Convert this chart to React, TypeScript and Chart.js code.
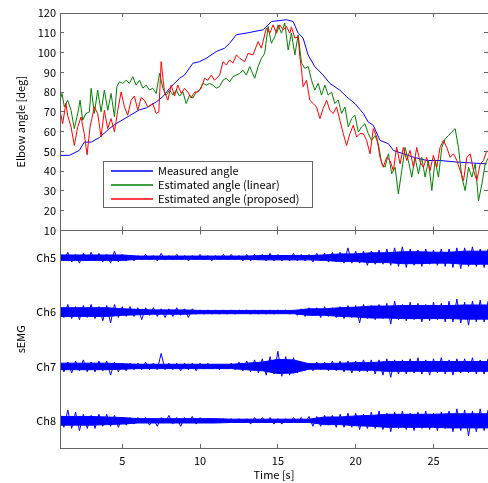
import React, { useEffect, useRef } from "react";
import { Chart, registerables } from "chart.js";

Chart.register(...registerables);

const FONT = '"Noto Sans CJK JP", "Noto Sans", sans-serif';
const AXIS = "#666666";

// Time axis / ticks
const timeTicks = [5, 10, 15, 20, 25];
const angleTicks = [10, 20, 30, 40, 50, 60, 70, 80, 90, 100, 110, 120];
const channelNames = ["Ch5", "Ch6", "Ch7", "Ch8"];
const channelCenters = [175, 125, 75, 25];

// Measured angle (blue)
const measuredTime = [1.0, 1.6, 2.24, 2.56, 3.0, 3.53, 4.17, 4.6, 5.46, 6.1, 6.54, 7.18, 7.6, 8.04, 8.68, 9.0, 9.54, 9.97, 10.4, 11.04, 11.58, 11.9, 12.33, 13.08, 14.05, 14.59, 15.55, 15.98, 16.3, 16.62, 16.94, 17.37, 17.91, 18.34, 18.98, 19.42, 19.95, 20.49, 20.8, 21.13, 21.56, 22.1, 22.42, 23.06, 23.7, 24.57, 25.43, 26.5, 27.57, 28.43];
const measuredAngle = [48, 48, 50.5, 54.7, 54.7, 57, 61.5, 64, 68, 71, 72, 75, 77.6, 81.9, 87, 88.6, 94.6, 95.4, 97.1, 100.5, 102.2, 104.7, 109, 110, 111.5, 115.7, 116.6, 115.7, 109.8, 107.3, 98.8, 92.9, 88.6, 84.4, 81, 77.6, 74.2, 69.2, 64.9, 63.2, 55.6, 53.9, 50.5, 48.8, 47.1, 45.4, 45.4, 44.6, 44.1, 43.7];

// Estimated angle (linear) (green)
const linearTime = [1.0, 1.13, 1.28, 1.49, 1.71, 1.92, 2.14, 2.29, 2.46, 2.67, 2.89, 3.0, 3.21, 3.42, 3.64, 3.85, 4.07, 4.28, 4.5, 4.65, 4.82, 5.03, 5.25, 5.46, 5.68, 5.89, 6.11, 6.32, 6.54, 6.75, 6.96, 7.18, 7.4, 7.61, 7.82, 8.04, 8.25, 8.47, 8.68, 8.9, 9.11, 9.33, 9.54, 9.75, 9.97, 10.18, 10.4, 10.61, 10.83, 11.04, 11.25, 11.47, 11.68, 11.9, 12.11, 12.33,
  12.55, 12.76, 12.97, 13.19, 13.51, 13.73, 13.94, 14.15, 14.37, 14.58, 14.8, 15.01, 15.23, 15.44, 15.66, 15.87, 16.09, 16.3, 16.52, 16.73, 16.95, 17.16, 17.37, 17.59, 17.8, 18.02, 18.23, 18.45, 18.66, 18.88, 19.09, 19.31, 19.52, 19.74, 19.95, 20.17, 20.38, 20.59, 20.81, 21.02, 21.24, 21.45, 21.67, 21.88, 22.1, 22.31, 22.53, 22.74, 22.96, 23.17, 23.38, 23.6, 23.81, 24.03, 24.24, 24.46, 24.67, 24.89, 25.1, 25.32, 25.53, 25.75, 25.96, 26.17, 26.39, 26.6, 26.82, 27.03, 27.25, 27.46, 27.68, 27.89, 28.11, 28.32, 28.54];
const linearAngle = [75.9, 79.3, 72.5, 75.9, 70.8, 61.5, 69.2, 75.9, 65.8, 69.2, 70, 81.9, 69.2, 81, 70, 81, 70.8, 79.3, 67.5, 82.7, 85.2, 84.4, 86, 84.4, 87.8, 83.5, 86, 82, 83.5, 81, 82, 79.3, 89.5, 82, 78.5, 81, 78.5, 81, 78, 80, 74.2, 78.5, 77, 80, 81, 84.4, 83.5, 84.4, 83.5, 82, 82.7, 86, 87, 85.2, 87.8, 88.6,
  89.5, 91, 88.6, 92.9, 87, 93, 97, 99.6, 113.2, 104.7, 108, 114, 109.8, 115, 101.3, 109.8, 98.8, 108.9, 94.6, 92, 92.9, 86, 81, 84.4, 78.5, 83.5, 78.5, 80, 74.2, 76, 69.2, 72.5, 62.4, 66.6, 68.3, 59.8, 62.4, 64, 59, 55.6, 58, 53.9, 43.7, 42, 48.8, 38.7, 42, 28.5, 40.3, 52, 45.4, 37, 47, 38.7, 47, 37, 45.4, 30.2, 45.4, 37, 52, 56.4, 58, 59.8, 61.5, 52, 37, 30.2, 42, 37, 43.7, 25, 33.6, 43.7, 47];

// Estimated angle (proposed) (red)
const proposedTime = [1.0, 1.17, 1.38, 1.49, 1.71, 1.92, 2.14, 2.35, 2.56, 2.74, 2.93, 3.21, 3.42, 3.64, 3.85, 4.07, 4.28, 4.5, 4.71, 4.93, 5.14, 5.35, 5.57, 5.78, 6.0, 6.21, 6.43, 6.64, 6.96, 7.18, 7.35, 7.5, 7.71, 7.93, 8.14, 8.36, 8.57, 8.79, 9.0, 9.21, 9.43, 9.65, 9.86, 10.07, 10.29, 10.5, 10.72, 10.93, 11.26, 11.47, 11.69, 11.9, 12.11, 12.33,
  12.55, 12.87, 13.08, 13.4, 13.73, 13.94, 14.26, 14.48, 14.69, 14.91, 15.12, 15.34, 15.55, 15.77, 15.87, 16.09, 16.3, 16.41, 16.52, 16.62, 16.84, 17.05, 17.27, 17.48, 17.7, 17.91, 18.13, 18.34, 18.56, 18.77, 18.98, 19.2, 19.41, 19.63, 19.84, 20.06, 20.27, 20.49, 20.7, 20.92, 21.13, 21.35, 21.56, 21.77, 21.99, 22.2, 22.42, 22.63, 22.85, 23.06, 23.28, 23.49, 23.71, 23.92, 24.14, 24.35, 24.56, 24.78, 24.99, 25.21, 25.42, 25.64, 25.85, 26.07, 26.28, 26.5, 26.71, 26.93, 27.14, 27.36, 27.57, 27.78, 28.0, 28.21, 28.43];
const proposedAngle = [70.8, 64, 74.4, 68.3, 62.4, 53, 62.4, 67.4, 59, 48.3, 62.4, 72.5, 69.2, 57.3, 70.8, 61.5, 66.6, 59.8, 70.8, 80.1, 72.5, 68.3, 75.9, 78, 70.8, 77.2, 75.9, 72.5, 74.2, 69.2, 70, 95.4, 80.1, 75.9, 83.5, 78, 83.5, 79.3, 81.9, 80, 77, 80, 80, 82, 87, 86, 88.6, 86, 88.6, 95.4, 93.7, 96.3, 94.6, 98.8,
  97.1, 95.4, 99.6, 98.8, 105.6, 102.2, 112.4, 109.8, 114, 109.8, 114, 111.5, 113.2, 109.8, 113, 107.3, 108, 98, 91.2, 82.7, 86, 75.9, 74.2, 72.5, 66.6, 71.7, 75.9, 70.8, 69.2, 72.5, 65.8, 59, 53, 59, 63.2, 57.3, 59, 59, 55.6, 48.8, 61.5, 57.3, 47.1, 42, 47, 45.4, 40.3, 52.2, 43.7, 52, 45.4, 50.5, 42, 52, 44.6, 42, 47, 40.3, 48, 42, 52, 55.6, 52, 47, 48.8, 45.4, 40.3, 35.3, 47, 48.8, 40.3, 35.3, 43.7, 45.4, 50.5];

// sEMG peaks: alternating positive / negative extremes read every 0.25 s from t = 1 s
const emgStart = 1;
const emgStep = 0.25;
const ch5 = [
  4, -3, 5, -4, 3, -5, 4, -3, 5, -3, 4, -4, 3, -5, 6, -4, 3, -3, 2, -3, 2, -2, 3, -2, 2, -3, 4, -2,
  2, -2, 3, -2, 2, -3, 2, -2, 3, -2, 2, -3, 2, -2, 3, -2, 3, -2, 2, -3, 3, -3, 3, -2, 3, -3, 4, -3,
  3, -3, 2, -3, 4, -3, 3, -3, 3, -4, 4, -3, 4, -4, 5, -4, 5, -5, 9, -5, 6, -5, 6, -7, 6, -6, 7, -6,
  8, -7, 9, -8, 10, -9, 8, -7, 7, -8, 8, -6, 7, -7, 8, -8, 8, -9, 9, -10, 9, -8, 10, -8, 8, -9, 8];
const ch6 = [
  6, -5, 7, -6, 5, -7, 6, -5, 7, -6, 5, -8, 6, -10, 7, -5, 5, -4, 5, -4, 4, -7, 4, -3, 4, -4, 3, -5,
  3, -4, 4, -3, 3, -5, 3, -2, 2, -2, 2, -2, 2, -2, 2, -2, 2, -2, 2, -1, 2, -2, 2, -2, 2, -2, 2, -2,
  2, -1, 2, -2, 2, -3, 3, -4, 4, -3, 4, -5, 5, -4, 4, -5, 5, -6, 6, -5, 6, -10, 7, -6, 6, -7, 7, -6,
  8, -11, 10, -7, 7, -8, 9, -7, 8, -9, 7, -8, 9, -7, 8, -9, 10, -9, 12, -10, 9, -12, 10, -9, 11, -9, 10];
const ch7 = [
  4, -5, 4, -6, 5, -4, 6, -5, 4, -5, 5, -4, 5, -8, 4, -5, 3, -4, 3, -3, 3, -3, 4, -3, 3, -3, 12, -3,
  3, -3, 3, -4, 3, -3, 3, -4, 3, -2, 3, -2, 2, -3, 2, -2, 3, -3, 4, -4, 5, -5, 6, -6, 7, -8, 9, -7,
  14, -9, 9, -8, 8, -6, 4, -4, 3, -4, 4, -3, 4, -4, 5, -4, 5, -5, 5, -6, 5, -5, 6, -5, 6, -7, 6, -8,
  7, -10, 6, -7, 6, -7, 7, -6, 8, -7, 6, -8, 7, -6, 8, -7, 6, -8, 7, -6, 7, -6, 8, -7, 6, -7, 7];
const ch8 = [
  7, -6, 10, -7, 8, -9, 6, -7, 5, -7, 6, -5, 6, -5, 5, -6, 3, -4, 3, -3, 3, -2, 3, -4, 2, -5, 3, -2,
  5, -3, 3, -5, 3, -2, 4, -3, 3, -2, 2, -2, 2, -2, 2, -2, 2, -2, 2, -2, 2, -3, 3, -2, 3, -2, 3, -3,
  2, -3, 2, -2, 3, -2, 3, -2, 4, -5, 4, -5, 5, -4, 5, -6, 6, -6, 7, -6, 7, -8, 6, -7, 8, -7, 9, -8,
  7, -10, 8, -7, 9, -8, 7, -9, 8, -7, 9, -8, 7, -9, 8, -7, 9, -10, 11, -9, 10, -14, 9, -10, 11, -9, 10];
const emgPeaks = [ch5, ch6, ch7, ch8];

// sEMG dense-core half width, read once per second
const coreTime = [1, 2, 3, 4, 5, 6, 7, 8, 9, 10, 11, 12, 13, 14, 15, 16, 17, 18, 19, 20, 21, 22, 23, 24, 25, 26, 27, 28, 28.5];
const core5 = [2.5, 2.5, 2.5, 2.5, 2.5, 1.5, 1.5, 1.5, 1.5, 1.5, 1.5, 1.5, 1.5, 2, 2, 2, 2, 2.5, 3.5, 3.5, 4.5, 4.5, 5.5, 5.5, 5, 5, 6, 6, 6];
const core6 = [4, 4, 4, 4, 3, 2.5, 2, 2, 2, 1.5, 1.5, 1.5, 1.5, 1.5, 1.5, 1.5, 3, 3, 4, 4.5, 5.5, 5.5, 6, 6, 6, 6, 6.5, 6.5, 6.5];
const core7 = [3, 3, 3, 3, 2.5, 2, 2, 2, 2, 2, 2, 2, 3, 4, 6.5, 6, 2.5, 2.5, 3, 3.5, 3.5, 4.5, 4.5, 4.5, 4.5, 4.5, 4.5, 4.5, 4.5];
const core8 = [4, 4, 4, 3.5, 3, 2, 2, 2, 2, 2, 2, 1.5, 1.5, 1.5, 1.5, 1.5, 1.5, 3.5, 3.5, 4.5, 5, 6, 6, 6, 6, 6.5, 6.5, 6.5, 6.5];
const emgCores = [core5, core6, core7, core8];

const legendLabels = ["Measured angle", "Estimated angle (linear)", "Estimated angle (proposed)"];
const legendColors = ["#0000ff", "#008000", "#ff0000"];

const toPoints = (xs: number[], ys: number[]) => xs.map((x, i) => ({ x, y: ys[i] }));

const framePlugin = {
  id: "matlabFrame",
  afterDraw(chart: any) {
    const { ctx, chartArea } = chart;
    const xs = chart.scales.x;
    const ya = chart.scales.yAngle;
    const ye = chart.scales.yEmg;
    const L = chartArea.left;
    const R = chartArea.right;
    const a = (v: number) => Math.floor(v) + 0.5;
    ctx.save();
    ctx.strokeStyle = AXIS;
    ctx.lineWidth = 1;
    ctx.beginPath();
    ctx.moveTo(a(L), ya.top); ctx.lineTo(a(L), ye.bottom + 1);
    ctx.moveTo(L, a(ya.top)); ctx.lineTo(R, a(ya.top));
    ctx.moveTo(L, a(ya.bottom)); ctx.lineTo(R, a(ya.bottom));
    ctx.moveTo(L, a(ye.bottom)); ctx.lineTo(R, a(ye.bottom));
    for (const v of timeTicks) {
      const px = a(xs.getPixelForValue(v));
      ctx.moveTo(px, ya.top); ctx.lineTo(px, ya.top + 4);
      ctx.moveTo(px, ya.bottom - 4); ctx.lineTo(px, ya.bottom);
      ctx.moveTo(px, ye.top); ctx.lineTo(px, ye.top + 4);
      ctx.moveTo(px, ye.bottom - 4); ctx.lineTo(px, ye.bottom);
    }
    for (const v of angleTicks) {
      const py = a(ya.getPixelForValue(v));
      ctx.moveTo(L, py); ctx.lineTo(L + 4, py);
      ctx.moveTo(R - 4, py); ctx.lineTo(R, py);
    }
    ctx.stroke();
    ctx.restore();

    // axis titles
    ctx.save();
    ctx.fillStyle = "#000";
    ctx.font = `11px ${FONT}`;
    ctx.textAlign = "center";
    ctx.textBaseline = "middle";
    ctx.fillText("Time [s]", (L + R) / 2, 475);
    ctx.translate(21, (ya.top + ya.bottom) / 2);
    ctx.rotate(-Math.PI / 2);
    ctx.fillText("Elbow angle [deg]", 0, 0);
    ctx.restore();
    ctx.save();
    ctx.fillStyle = "#000";
    ctx.font = `11px ${FONT}`;
    ctx.textAlign = "center";
    ctx.textBaseline = "middle";
    ctx.translate(21, (ye.top + ye.bottom) / 2);
    ctx.rotate(-Math.PI / 2);
    ctx.fillText("sEMG", 0, 0);
    ctx.restore();

    // legend
    ctx.save();
    const bx = 103.5, by = 161.5, bw = 209, bh = 46;
    ctx.fillStyle = "#ffffff";
    ctx.fillRect(bx, by, bw, bh);
    ctx.lineWidth = 1;
    ctx.strokeStyle = AXIS;
    ctx.strokeRect(bx, by, bw, bh);
    ctx.restore();
    for (let i = 0; i < legendLabels.length; i++) {
      const y = 171 + i * 14;
      ctx.save();
      ctx.lineWidth = 1.3;
      ctx.strokeStyle = legendColors[i];
      ctx.beginPath();
      ctx.moveTo(111, y);
      ctx.lineTo(153, y);
      ctx.stroke();
      ctx.fillStyle = "#000000";
      ctx.font = `11px ${FONT}`;
      ctx.textAlign = "left";
      ctx.textBaseline = "middle";
      ctx.fillText(legendLabels[i], 158, y);
      ctx.restore();
    }
  },
};

export default function App() {
  const ref = useRef<HTMLCanvasElement | null>(null);
  useEffect(() => {
    if (!ref.current) return;
    const emgDatasets: any[] = [];
    emgPeaks.forEach((vals, c) => {
      const center = channelCenters[c];
      emgDatasets.push({
        label: channelNames[c],
        data: vals.map((v, i) => ({ x: emgStart + emgStep * i, y: center + v })),
        yAxisID: "yEmg",
        borderColor: "#0000ff",
        borderWidth: 1,
        pointRadius: 0,
        fill: false,
        order: 3,
      });
      emgDatasets.push({
        label: channelNames[c] + " core+",
        data: coreTime.map((t, i) => ({ x: t, y: center + emgCores[c][i] })),
        yAxisID: "yEmg",
        borderColor: "#0000ff",
        borderWidth: 1,
        pointRadius: 0,
        fill: false,
        order: 4,
      });
      emgDatasets.push({
        label: channelNames[c] + " core-",
        data: coreTime.map((t, i) => ({ x: t, y: center - emgCores[c][i] })),
        yAxisID: "yEmg",
        borderColor: "#0000ff",
        backgroundColor: "#0000ff",
        borderWidth: 1,
        pointRadius: 0,
        fill: "-1",
        order: 4,
      });
    });
    const chart = new Chart(ref.current, {
      type: "line",
      data: {
        datasets: [
          { label: legendLabels[2], data: toPoints(proposedTime, proposedAngle), yAxisID: "yAngle", borderColor: "#ff0000", borderWidth: 1, pointRadius: 0, fill: false, order: 0 },
          { label: legendLabels[1], data: toPoints(linearTime, linearAngle), yAxisID: "yAngle", borderColor: "#008000", borderWidth: 1, pointRadius: 0, fill: false, order: 1 },
          { label: legendLabels[0], data: toPoints(measuredTime, measuredAngle), yAxisID: "yAngle", borderColor: "#0000ff", borderWidth: 1, pointRadius: 0, fill: false, order: 2 },
          ...emgDatasets,
        ] as any,
      },
      options: {
        responsive: false,
        animation: false,
        events: [],
        layout: { padding: { top: 13, right: 0, bottom: 0, left: 0 } },
        plugins: { legend: { display: false }, tooltip: { enabled: false } },
        scales: {
          x: {
            type: "linear",
            min: 1,
            max: 28.5,
            afterBuildTicks: (s: any) => { s.ticks = timeTicks.map((v) => ({ value: v })); },
            afterFit: (s: any) => { s.height = 35; },
            grid: { display: false, drawTicks: false },
            border: { display: false },
            ticks: { font: { family: FONT, size: 11 }, color: "#000", padding: 6, maxRotation: 0, autoSkip: false },
          },
          yEmg: {
            type: "linear",
            position: "left",
            stack: "panels",
            stackWeight: 1,
            weight: 1,
            min: 0,
            max: 200,
            afterBuildTicks: (s: any) => { s.ticks = channelCenters.map((v) => ({ value: v })); },
            afterFit: (s: any) => { s.width = 60; },
            grid: { display: false, drawTicks: false },
            border: { display: false },
            ticks: {
              font: { family: FONT, size: 11 }, color: "#000", padding: 4, autoSkip: false,
              callback: (v: any) => channelNames[channelCenters.indexOf(Number(v))] ?? "",
            },
          },
          yAngle: {
            type: "linear",
            position: "left",
            stack: "panels",
            stackWeight: 1,
            weight: 2,
            min: 10,
            max: 120,
            afterBuildTicks: (s: any) => { s.ticks = angleTicks.map((v) => ({ value: v })); },
            afterFit: (s: any) => { s.width = 60; },
            grid: { display: false, drawTicks: false },
            border: { display: false },
            ticks: { font: { family: FONT, size: 11 }, color: "#000", padding: 4, autoSkip: false },
          },
        },
      } as any,
      plugins: [framePlugin],
    });
    return () => chart.destroy();
  }, []);
  return (
    <div style={{ position: "absolute", left: 0, top: 0, width: 488, height: 483, background: "#fff" }}>
      <canvas ref={ref} width={488} height={483} style={{ display: "block" }} />
    </div>
  );
}
